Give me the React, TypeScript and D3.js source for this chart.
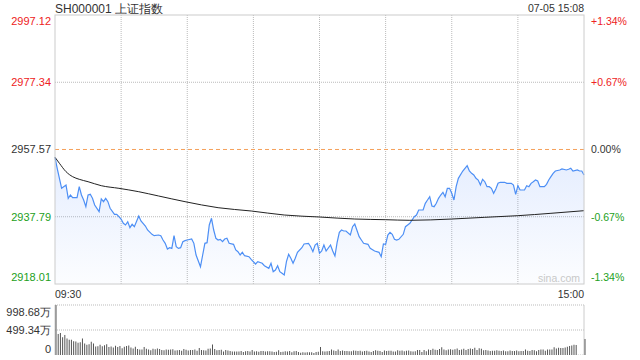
import React from "react";
import * as d3 from "d3";

const title = "SH000001 上证指数";
const stamp = "07-05 15:08";
const prevClose = 2957.57;
const priceTicks = [2997.12, 2977.34, 2957.57, 2937.79, 2918.01];
const pctTicks = ["+1.34%", "+0.67%", "0.00%", "-0.67%", "-1.34%"];
const timeLabels = ["09:30", "15:00"];
const volTicks = [998.68, 499.34, 0];
const volTickLabels = ["998.68万", "499.34万", "0"];

const priceMinutes = [0,1,3,5,6,7,8,10,11,12,13,14,15,16,17,18,20,21,22,23,24,25,27,28,30,31,32,33,34,35,36,38,39,41,42,44,45,47,48,49,50,51,52,53,54,55,56,57,58,59,60,62,63,64,66,67,68,69,70,71,72,73,74,75,76,77,78,79,81,82,83,84,85,86,88,89,91,92,94,95,97,98,99,100,101,102,103,104,105,106,107,108,109,110,112,113,115,116,117,118,119,120,121,122,123,125,126,127,128,129,130,131,132,134,135,136,138,139,140,142,143,145,147,148,149,150,151,152,153,154,155,156,158,159,160,161,162,163,164,165,167,168,169,170,171,172,173,174,175,176,177,178,179,180,181,182,183,185,186,187,188,189,190,191,192,193,194,195,196,197,198,199,200,201,202,204,205,207,208,209,210,211,213,214,215,216,217,218,219,220,222,223,224,225,226,227,229,230,232,233,234,235,237,238,239,240];
const prices = [2955.26,2952.03,2946.15,2947.12,2943.21,2944.18,2943.40,2943.40,2946.63,2944.18,2942.71,2940.75,2944.18,2944.38,2943.21,2941.24,2939.28,2943.01,2942.22,2943.21,2942.22,2940.27,2938.50,2938.50,2937.12,2935.85,2935.36,2936.33,2934.57,2935.56,2934.86,2938.01,2936.54,2935.07,2933.89,2932.62,2932.22,2932.42,2932.22,2930.95,2929.97,2928.30,2928.69,2928.49,2932.22,2928.98,2928.49,2928.69,2930.45,2930.75,2930.95,2931.24,2929.97,2926.54,2923.10,2926.54,2929.97,2930.16,2935.36,2937.33,2933.89,2931.45,2930.95,2931.15,2930.45,2931.24,2931.45,2929.97,2929.68,2928.01,2927.51,2926.54,2927.33,2926.33,2926.04,2925.27,2923.89,2924.57,2924.10,2923.39,2922.63,2924.10,2921.63,2922.13,2923.39,2921.63,2921.16,2920.66,2924.57,2926.74,2925.57,2924.10,2925.57,2927.33,2928.69,2929.77,2929.97,2928.98,2927.51,2929.48,2929.97,2927.03,2927.71,2929.48,2927.71,2929.48,2927.71,2926.24,2930.27,2933.21,2933.89,2933.60,2933.60,2932.42,2934.86,2935.65,2931.92,2930.95,2929.97,2929.68,2928.51,2927.71,2927.33,2926.04,2929.77,2929.68,2932.42,2933.21,2932.62,2931.15,2930.95,2931.15,2932.62,2934.86,2935.36,2935.85,2936.83,2937.80,2938.30,2939.77,2939.77,2941.74,2942.71,2943.68,2940.95,2940.75,2941.74,2943.21,2944.18,2944.97,2943.68,2946.15,2946.15,2944.68,2942.71,2946.63,2949.09,2951.24,2952.03,2952.81,2951.24,2950.56,2950.06,2949.09,2948.59,2947.12,2948.80,2948.09,2946.63,2946.63,2946.15,2944.68,2945.95,2947.62,2947.92,2947.92,2947.62,2947.62,2947.12,2944.39,2946.92,2945.65,2945.65,2946.92,2946.63,2947.62,2948.09,2948.59,2948.30,2946.63,2946.63,2947.33,2948.59,2949.57,2950.56,2951.24,2951.54,2951.83,2951.54,2951.74,2952.03,2951.24,2951.54,2951.24,2951.24,2950.06];

const avgMinutes = [0,2,5,8,11,15,21,29,38,47,59,74,89,104,120,136,150,161,180,195,210,225,240];
const avgPrices = [2955.26,2953.51,2951.04,2949.57,2948.80,2948.09,2946.92,2946.15,2945.15,2943.89,2942.22,2940.45,2939.48,2938.30,2937.71,2937.12,2936.92,2936.74,2937.12,2937.62,2938.10,2938.80,2939.57];

const volumes = [
998,420,440,355,400,330,305,305,275,270,
245,255,330,230,205,215,265,230,170,175,
205,175,195,215,160,170,150,185,160,180,
135,165,180,190,150,130,165,120,110,110,
160,125,110,95,125,115,130,120,100,95,
110,105,110,115,90,95,100,85,120,105,
90,100,100,110,85,140,100,95,90,125,
130,210,120,95,100,105,70,100,90,80,
70,70,70,70,80,60,75,80,70,100,
70,75,65,80,80,70,75,75,70,60,
65,95,60,65,75,70,80,55,75,80,
60,45,55,50,55,55,55,40,60,65,
160,75,70,75,80,110,90,80,110,80,
90,80,80,75,75,90,85,80,85,70,
80,85,70,60,80,95,85,80,60,90,
80,85,85,70,70,95,85,90,75,85,
90,75,70,75,100,100,60,100,75,110,
100,125,105,100,120,155,110,95,110,115,
105,115,130,100,110,125,100,120,130,120,
145,100,135,125,95,100,90,80,85,85,
95,85,80,90,75,75,90,80,80,90,
75,80,80,110,85,80,100,95,75,100,
110,110,85,110,110,110,155,130,145,140,
140,150,165,180,190,205,200,4,4,4,
320];

const RED = "#ee2222";
const GREEN = "#22a022";
const DARK = "#333";
const FONT = "'Liberation Sans', Arial, sans-serif";

export default function App() {
  const L = 55, R = 584, T = 15, B = 284;
  const VT = 305, VB = 355;
  const x = d3.scaleLinear().domain([0, 240]).range([L, R]);
  const y = d3.scaleLinear().domain([priceTicks[4], priceTicks[0]]).range([B, T]);
  const yv = d3.scaleLinear().domain([0, volTicks[0]]).range([VB, VT]);

  const pts: [number, number][] = priceMinutes.map((m, i) => [m, prices[i]]);
  const line = d3.line<[number, number]>().x(d => x(d[0])).y(d => y(d[1]));
  const area = d3.area<[number, number]>().x(d => x(d[0])).y0(B).y1(d => y(d[1]));
  const avgPts: [number, number][] = avgMinutes.map((m, i) => [m, avgPrices[i]]);
  const avgLine = d3.line<[number, number]>().x(d => x(d[0])).y(d => y(d[1])).curve(d3.curveMonotoneX);

  const colorFor = (i: number) => (i < 2 ? RED : i === 2 ? DARK : GREEN);
  const labelY = (i: number, gy: number) => (i === 0 ? gy + 10 : i === 4 ? gy - 3 : gy + 4);
  const vGrid = d3.range(1, 8).map(k => L + ((R - L) * k) / 8);

  return (
    <svg width={640} height={360} style={{ position: "absolute", left: 0, top: 0, background: "#fff" }} fontFamily={FONT}>
      <defs>
        <linearGradient id="fillg" x1="0" y1={T + 140} x2="0" y2={B} gradientUnits="userSpaceOnUse">
          <stop offset="0" stopColor="#5b8ff9" stopOpacity={0.16} />
          <stop offset="1" stopColor="#5b8ff9" stopOpacity={0.02} />
        </linearGradient>
      </defs>
      <text x={L} y={12.5} fontSize={12} fill={DARK}>{title}</text>
      <text x={R} y={12} fontSize={10.5} fill={DARK} textAnchor="end">{stamp}</text>

      {priceTicks.slice(1, 4).map((p, i) =>
        i === 1 ? null : (
          <line key={"h" + i} x1={L} x2={R} y1={y(p)} y2={y(p)} stroke="#bbb" strokeDasharray="1,1" />
        )
      )}
      {vGrid.map((gx, i) => (
        <line key={"v" + i} x1={gx} x2={gx} y1={T} y2={B} stroke="#bbb" strokeDasharray="1,1" />
      ))}

      <path d={area(pts) || ""} fill="url(#fillg)" />
      <line x1={L} x2={R} y1={y(prevClose)} y2={y(prevClose)} stroke="#f5a05a" strokeDasharray="4,3" />
      <text x={R - 4} y={B - 2} fontSize={10.5} fill="#c8c8c8" textAnchor="end">sina.com</text>
      <path d={line(pts) || ""} fill="none" stroke="#4d8ff5" strokeWidth={1.2} />
      <path d={avgLine(avgPts) || ""} fill="none" stroke="#222" strokeWidth={1} />
      <rect x={L} y={T} width={R - L} height={B - T} fill="none" stroke="#ccc" />

      {priceTicks.map((p, i) => (
        <text key={"l" + i} x={51} y={labelY(i, y(p))} fontSize={11} fill={colorFor(i)} textAnchor="end">
          {p.toFixed(2)}
        </text>
      ))}
      {pctTicks.map((t, i) => (
        <text key={"r" + i} x={591} y={labelY(i, y(priceTicks[i]))} fontSize={10.5} fill={colorFor(i)}>
          {t}
        </text>
      ))}

      <text x={L} y={298} fontSize={10.5} fill={DARK}>{timeLabels[0]}</text>
      <text x={R} y={298} fontSize={10.5} fill={DARK} textAnchor="end">{timeLabels[1]}</text>

      {volTicks.slice(0, 2).map((v, i) => (
        <line key={"vg" + i} x1={L} x2={R} y1={yv(v)} y2={yv(v)} stroke="#bbb" strokeDasharray="1,1" />
      ))}
      <line x1={L} x2={L} y1={VT} y2={VB} stroke="#ccc" />
      <line x1={R} x2={R} y1={VT} y2={VB} stroke="#ccc" />
      {volumes.map((v, i) => (
        <rect key={"b" + i} x={x(i) + 0.5} y={yv(v)} width={1} height={VB - yv(v)} fill="#555" />
      ))}
      {volTickLabels.map((t, i) => (
        <text key={"vl" + i} x={51} y={i === 0 ? yv(volTicks[i]) + 11 : i === 2 ? yv(0) - 2 : yv(volTicks[i]) + 4} fontSize={11} fill={DARK} textAnchor="end">
          {t}
        </text>
      ))}
    </svg>
  );
}
